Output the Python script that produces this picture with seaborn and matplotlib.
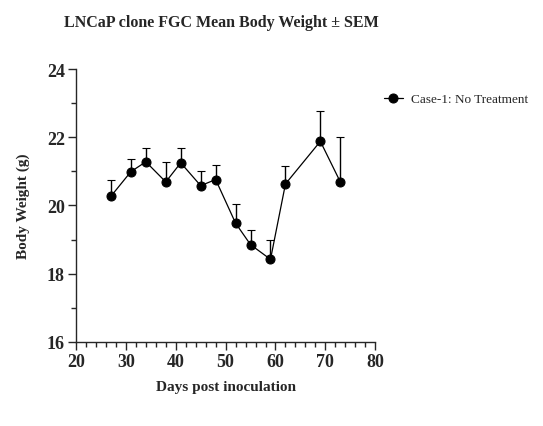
import numpy as np
import pandas as pd
import matplotlib
matplotlib.use("Agg")
import matplotlib.pyplot as plt
import seaborn as sns
from matplotlib.ticker import MultipleLocator

# Data
days = [27, 31, 34, 38, 41, 45, 48, 52, 55, 59, 62, 69, 73]
mean_weight = [20.27, 20.99, 21.28, 20.69, 21.25, 20.58, 20.76, 19.48, 18.85, 18.42, 20.63, 21.88, 20.69]
sem_weight = [0.49, 0.38, 0.41, 0.58, 0.44, 0.42, 0.44, 0.55, 0.43, 0.58, 0.53, 0.90, 1.33]
group_name = "Case-1: No Treatment"

df = pd.DataFrame({"day": days, "weight": mean_weight, "sem": sem_weight, "group": group_name})

sns.set_style("ticks")
plt.rcParams["font.family"] = ["Liberation Serif", "DejaVu Serif"]
plt.rcParams["font.weight"] = "bold"

fig = plt.figure(figsize=(5.43, 4.27), dpi=100)
ax = fig.add_axes([0.14, 0.197, 0.551, 0.639])

# upward-only error bars
ax.errorbar(df["day"], df["weight"], yerr=[np.zeros(len(df)), df["sem"]],
            fmt="none", ecolor="black", elinewidth=1.0, capsize=3, capthick=0.8)
sns.lineplot(data=df, x="day", y="weight", hue="group", palette=["black"],
             marker="o", markersize=6.5, linewidth=0.9, markeredgecolor="black",
             ax=ax)

ax.set_xlim(20, 80)
ax.set_ylim(16, 24)
ax.xaxis.set_major_locator(MultipleLocator(10))
ax.xaxis.set_minor_locator(MultipleLocator(2))
ax.yaxis.set_major_locator(MultipleLocator(2))
ax.yaxis.set_minor_locator(MultipleLocator(1))
ax.tick_params(which="major", length=6, width=1, labelsize=13, pad=2)
ax.tick_params(which="minor", length=3.5, width=1)
for lab in ax.get_xticklabels() + ax.get_yticklabels():
    lab.set_fontweight("bold")
for s in ["left", "bottom"]:
    ax.spines[s].set_linewidth(1)
sns.despine(ax=ax)

ax.set_xlabel("Days post inoculation", fontsize=11, fontweight="bold", labelpad=7)
ax.set_ylabel("Body Weight (g)", fontsize=11, fontweight="bold", labelpad=12)
fig.suptitle("LNCaP clone FGC Mean Body Weight \u00b1 SEM", x=0.408, y=0.965,
             fontsize=11.5, fontweight="bold")

leg = ax.legend(loc="upper left", bbox_to_anchor=(1.03, 0.912), frameon=False,
                borderpad=0, borderaxespad=0, handlelength=1.4, handletextpad=0.6,
                prop={"size": 9.5, "weight": "normal"})

fig.savefig("out.png", dpi=100)
